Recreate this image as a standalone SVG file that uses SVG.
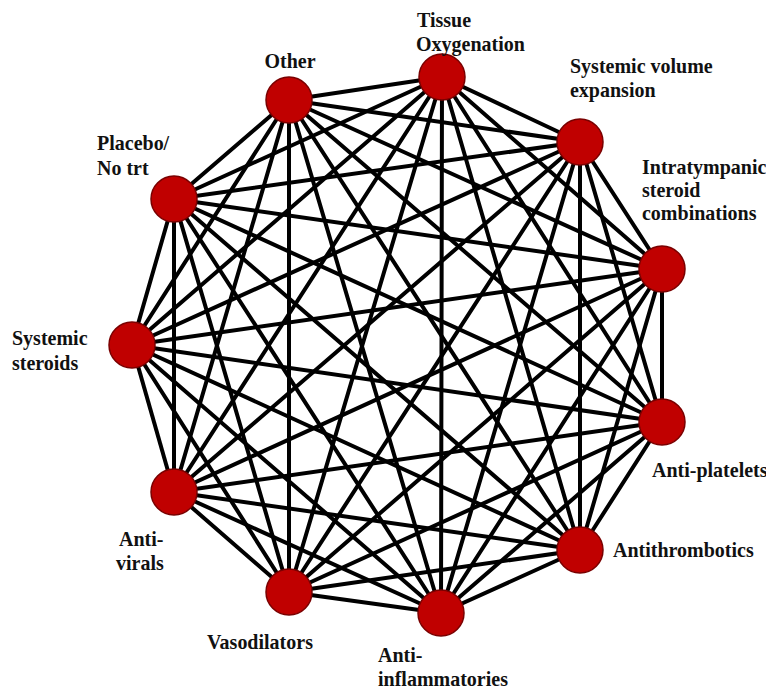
<svg xmlns="http://www.w3.org/2000/svg" width="766" height="691" viewBox="0 0 766 691">
<style>
.e{stroke:#000;stroke-width:4;stroke-linecap:round}
.n{fill:#c00000;stroke:#7a0000;stroke-width:1.5}
.t{font-family:"Liberation Serif","Times New Roman",serif;font-weight:bold;font-size:20px;fill:#111}
</style>
<rect width="766" height="691" fill="#fff"/>
<g id="connectors">
<line class="e" x1="442" y1="77" x2="580" y2="142"/>
<line class="e" x1="442" y1="77" x2="662" y2="269"/>
<line class="e" x1="442" y1="77" x2="662" y2="422"/>
<line class="e" x1="442" y1="77" x2="580" y2="550"/>
<line class="e" x1="442" y1="77" x2="441" y2="613"/>
<line class="e" x1="442" y1="77" x2="289" y2="592"/>
<line class="e" x1="442" y1="77" x2="174" y2="492"/>
<line class="e" x1="442" y1="77" x2="132" y2="345"/>
<line class="e" x1="442" y1="77" x2="174" y2="199"/>
<line class="e" x1="442" y1="77" x2="289" y2="100"/>
<line class="e" x1="580" y1="142" x2="662" y2="269"/>
<line class="e" x1="580" y1="142" x2="662" y2="422"/>
<line class="e" x1="580" y1="142" x2="580" y2="550"/>
<line class="e" x1="580" y1="142" x2="441" y2="613"/>
<line class="e" x1="580" y1="142" x2="289" y2="592"/>
<line class="e" x1="580" y1="142" x2="174" y2="492"/>
<line class="e" x1="580" y1="142" x2="132" y2="345"/>
<line class="e" x1="580" y1="142" x2="174" y2="199"/>
<line class="e" x1="580" y1="142" x2="289" y2="100"/>
<line class="e" x1="662" y1="269" x2="662" y2="422"/>
<line class="e" x1="662" y1="269" x2="580" y2="550"/>
<line class="e" x1="662" y1="269" x2="441" y2="613"/>
<line class="e" x1="662" y1="269" x2="289" y2="592"/>
<line class="e" x1="662" y1="269" x2="174" y2="492"/>
<line class="e" x1="662" y1="269" x2="132" y2="345"/>
<line class="e" x1="662" y1="269" x2="174" y2="199"/>
<line class="e" x1="662" y1="269" x2="289" y2="100"/>
<line class="e" x1="662" y1="422" x2="580" y2="550"/>
<line class="e" x1="662" y1="422" x2="441" y2="613"/>
<line class="e" x1="662" y1="422" x2="289" y2="592"/>
<line class="e" x1="662" y1="422" x2="174" y2="492"/>
<line class="e" x1="662" y1="422" x2="132" y2="345"/>
<line class="e" x1="662" y1="422" x2="174" y2="199"/>
<line class="e" x1="662" y1="422" x2="289" y2="100"/>
<line class="e" x1="580" y1="550" x2="441" y2="613"/>
<line class="e" x1="580" y1="550" x2="289" y2="592"/>
<line class="e" x1="580" y1="550" x2="174" y2="492"/>
<line class="e" x1="580" y1="550" x2="132" y2="345"/>
<line class="e" x1="580" y1="550" x2="174" y2="199"/>
<line class="e" x1="580" y1="550" x2="289" y2="100"/>
<line class="e" x1="441" y1="613" x2="289" y2="592"/>
<line class="e" x1="441" y1="613" x2="174" y2="492"/>
<line class="e" x1="441" y1="613" x2="132" y2="345"/>
<line class="e" x1="441" y1="613" x2="174" y2="199"/>
<line class="e" x1="441" y1="613" x2="289" y2="100"/>
<line class="e" x1="289" y1="592" x2="174" y2="492"/>
<line class="e" x1="289" y1="592" x2="132" y2="345"/>
<line class="e" x1="289" y1="592" x2="174" y2="199"/>
<line class="e" x1="289" y1="592" x2="289" y2="100"/>
<line class="e" x1="174" y1="492" x2="132" y2="345"/>
<line class="e" x1="174" y1="492" x2="174" y2="199"/>
<line class="e" x1="174" y1="492" x2="289" y2="100"/>
<line class="e" x1="132" y1="345" x2="174" y2="199"/>
<line class="e" x1="132" y1="345" x2="289" y2="100"/>
<line class="e" x1="174" y1="199" x2="289" y2="100"/>
</g>
<g id="tissue-oxygenation">
<circle class="n" cx="442" cy="77" r="23"/>
<text class="t" transform="translate(417 27) scale(1 1.1)">Tissue</text>
<text class="t" transform="translate(416 51) scale(1 1.1)">Oxygenation</text>
</g>
<g id="systemic-volume-expansion">
<circle class="n" cx="580" cy="142" r="23"/>
<text class="t" transform="translate(570 73) scale(1 1.1)">Systemic volume</text>
<text class="t" transform="translate(570 97) scale(1 1.1)">expansion</text>
</g>
<g id="intratympanic">
<circle class="n" cx="662" cy="269" r="23"/>
<text class="t" transform="translate(642 174) scale(1 1.1)">Intratympanic</text>
<text class="t" transform="translate(642 197) scale(1 1.1)">steroid</text>
<text class="t" transform="translate(642 220) scale(1 1.1)">combinations</text>
</g>
<g id="anti-platelets">
<circle class="n" cx="662" cy="422" r="23"/>
<text class="t" transform="translate(652 477) scale(1 1.1)">Anti-platelets</text>
</g>
<g id="antithrombotics">
<circle class="n" cx="580" cy="550" r="23"/>
<text class="t" transform="translate(613 557) scale(1 1.1)">Antithrombotics</text>
</g>
<g id="anti-inflammatories">
<circle class="n" cx="441" cy="613" r="23"/>
<text class="t" transform="translate(378 662) scale(1 1.1)">Anti-</text>
<text class="t" transform="translate(378 686) scale(1 1.1)">inflammatories</text>
</g>
<g id="vasodilators">
<circle class="n" cx="289" cy="592" r="23"/>
<text class="t" transform="translate(207 649) scale(1 1.1)">Vasodilators</text>
</g>
<g id="anti-virals">
<circle class="n" cx="174" cy="492" r="23"/>
<text class="t" transform="translate(119 546) scale(1 1.1)">Anti-</text>
<text class="t" transform="translate(116 570) scale(1 1.1)">virals</text>
</g>
<g id="systemic-steroids">
<circle class="n" cx="132" cy="345" r="23"/>
<text class="t" transform="translate(12 345) scale(1 1.1)">Systemic</text>
<text class="t" transform="translate(12 370) scale(1 1.1)">steroids</text>
</g>
<g id="placebo">
<circle class="n" cx="174" cy="199" r="23"/>
<text class="t" transform="translate(97 150) scale(1 1.1)">Placebo/</text>
<text class="t" transform="translate(97 175) scale(1 1.1)">No trt</text>
</g>
<g id="other">
<circle class="n" cx="289" cy="100" r="23"/>
<text class="t" text-anchor="middle" transform="translate(290 68) scale(1 1.1)">Other</text>
</g>
</svg>
